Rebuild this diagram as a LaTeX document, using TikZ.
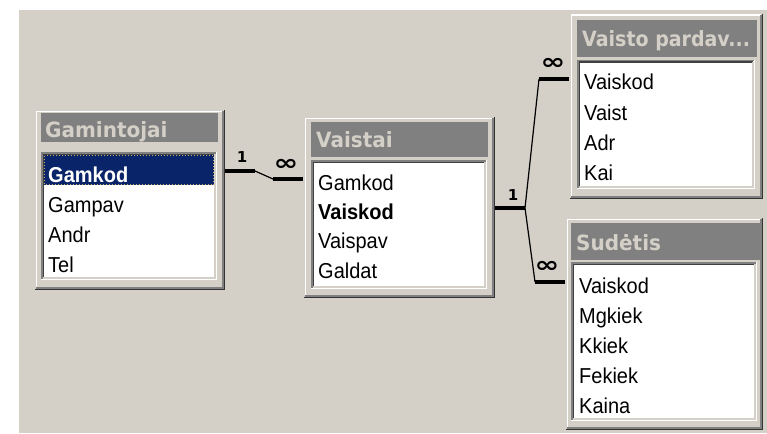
\documentclass[tikz,border=0pt]{standalone}
\usepackage{fontspec}
\setmainfont{Liberation Sans}
\newfontfamily\ttlfont{DejaVu Sans}
\usetikzlibrary{calc}
\definecolor{winbg}{RGB}{212,208,200}
\definecolor{midgray}{RGB}{128,128,128}
\definecolor{darkgray}{RGB}{64,64,64}
\definecolor{selbg}{RGB}{10,36,106}
\definecolor{focusdot}{RGB}{200,176,110}
\tikzset{
  frame/.style={anchor=north west, fill=winbg, inner sep=0pt, outer sep=0pt, draw=none},
  titlebar/.style={anchor=north west, fill=midgray, inner sep=0pt, outer sep=0pt, draw=none},
  listbox/.style={anchor=north west, fill=white, inner sep=0pt, outer sep=0pt, draw=none},
  ttl/.style={anchor=base west, inner sep=0pt, font=\ttlfont\bfseries\fontsize{20}{24}\selectfont, text=winbg, yscale=1.05},
  fld/.style={anchor=base west, inner sep=0pt, font=\fontsize{20}{24}\selectfont, yscale=1.08},
  stub/.style={line width=4.5pt},
  rel/.style={line width=1.2pt},
  card/.style={inner sep=0pt, font=\ttlfont\bfseries\fontsize{15}{17}\selectfont},
  many/.style={inner sep=0pt, font=\ttlfont\bfseries\fontsize{22}{24}\selectfont, xscale=1.35},
}
\newcommand\raisedframe[1]{%
  \draw[line width=1.5pt, white] ([shift={(2.25pt,2.25pt)}]#1.south west) |- ([shift={(-2.25pt,-2.25pt)}]#1.north east);
  \draw[line width=1.5pt, black!80] ([shift={(0.75pt,0.75pt)}]#1.south west) -| ([shift={(-0.75pt,-0.75pt)}]#1.north east);
  \draw[line width=1.5pt, midgray] ([shift={(2.25pt,2.25pt)}]#1.south west) -| ([shift={(-2.25pt,-2.25pt)}]#1.north east);
}
\newcommand\sunkenbox[1]{%
  \draw[line width=1.5pt, midgray] ([shift={(0.75pt,0.75pt)}]#1.south west) |- ([shift={(-0.75pt,-0.75pt)}]#1.north east);
  \draw[line width=1.5pt, darkgray] ([shift={(2.25pt,2.25pt)}]#1.south west) |- ([shift={(-2.25pt,-2.25pt)}]#1.north east);
  \draw[line width=1.5pt, white] ([shift={(0.75pt,0.75pt)}]#1.south west) -| ([shift={(-0.75pt,-0.75pt)}]#1.north east);
  \draw[line width=1.5pt, winbg] ([shift={(2.25pt,2.25pt)}]#1.south west) -| ([shift={(-2.25pt,-2.25pt)}]#1.north east);
}
\begin{document}
\begin{tikzpicture}[x=1pt,y=-1pt]
\useasboundingbox (0,0) rectangle (767,433);
\fill[white] (0,0) rectangle (767,433);
\fill[winbg] (19,10) rectangle (767,433);

% ---------- Gamintojai ----------
\node[frame, minimum width=191pt, minimum height=181pt] (gam) at (34,109) {};
\raisedframe{gam}
\node[titlebar, minimum width=177pt, minimum height=29pt] (gamT) at (41,113) {};
\node[ttl] (gamTt) at (45,137) {Gamintojai};
\node[listbox, minimum width=176pt, minimum height=128pt] (gamL) at (41,152) {};
\sunkenbox{gamL}
\fill[selbg] (44,155) rectangle (214,185);
\draw[focusdot, line width=1pt, dotted] (44.5,155.5) rectangle (213.5,184.5);
\node[fld, text=white, font=\bfseries\fontsize{20}{24}\selectfont] (g1) at (48,182) {Gamkod};
\node[fld] (g2) at (48,212) {Gampav};
\node[fld] (g3) at (48,242) {Andr};
\node[fld] (g4) at (48,272) {Tel};

% ---------- Vaistai ----------
\node[frame, minimum width=192pt, minimum height=182pt] (vai) at (303,116) {};
\raisedframe{vai}
\node[titlebar, minimum width=177pt, minimum height=35pt] (vaiT) at (311,122) {};
\node[ttl] (vaiTt) at (316,147) {Vaistai};
\node[listbox, minimum width=176pt, minimum height=129pt] (vaiL) at (311,160) {};
\sunkenbox{vaiL}
\node[fld] (v1) at (318,190) {Gamkod};
\node[fld, font=\bfseries\fontsize{20}{24}\selectfont] (v2) at (318,219) {Vaiskod};
\node[fld] (v3) at (318,248) {Vaispav};
\node[fld] (v4) at (318,278) {Galdat};

% ---------- Vaisto pardav... ----------
\node[frame, minimum width=194pt, minimum height=186pt] (vp) at (569,13) {};
\raisedframe{vp}
\node[titlebar, minimum width=180pt, minimum height=37pt] (vpT) at (577,20) {};
\node[ttl, xscale=0.95] (vpTt) at (582,47) {Vaisto pardav...};
\node[listbox, minimum width=178pt, minimum height=129pt] (vpL) at (577,60) {};
\sunkenbox{vpL}
\node[fld] (p1) at (584,90) {Vaiskod};
\node[fld] (p2) at (584,120) {Vaist};
\node[fld] (p3) at (584,150) {Adr};
\node[fld] (p4) at (584,180) {Kai};

% ---------- Sudėtis ----------
\node[frame, minimum width=198pt, minimum height=213pt] (sud) at (565,217) {};
\raisedframe{sud}
\node[titlebar, minimum width=189pt, minimum height=37pt] (sudT) at (571,223) {};
\node[ttl] (sudTt) at (576,250) {Sudėtis};
\node[listbox, minimum width=186pt, minimum height=159pt] (sudL) at (571,262) {};
\sunkenbox{sudL}
\node[fld] (s1) at (579,293) {Vaiskod};
\node[fld] (s2) at (579,323) {Mgkiek};
\node[fld] (s3) at (579,353) {Kkiek};
\node[fld] (s4) at (579,383) {Fekiek};
\node[fld] (s5) at (579,413) {Kaina};

% ---------- relationships ----------
\coordinate (g1c) at ($(g1.base)+(0,-11)$);
\coordinate (v1c) at ($(v1.base)+(0,-11)$);
\coordinate (v2c) at ($(v2.base)+(0,-11)$);
\coordinate (p1c) at ($(p1.base)+(0,-11)$);
\coordinate (s1c) at ($(s1.base)+(0,-11)$);

\draw[stub] (gam.east |- g1c) -- ++(30,0) coordinate (r1a);
\draw[stub] (vai.west |- v1c) -- ++(-30,0) coordinate (r1b);
\draw[rel] (r1a) -- (r1b);
\node[card] (r1one) at ($(gam.east |- g1c)+(17,-14)$) {1};
\node[many] (r1inf) at ($(vai.west |- v1c)+(-17,-14)$) {∞};

\draw[stub] (vai.east |- v2c) -- ++(30,0) coordinate (r2a);
\draw[stub] (vp.west |- p1c) -- ++(-30,0) coordinate (r2b);
\draw[rel] (r2a) -- (r2b);
\node[card] (r2one) at ($(vai.east |- v2c)+(18,-13)$) {1};
\node[many] (r2inf) at ($(vp.west |- p1c)+(-16,-15)$) {∞};

\draw[stub] (sud.west |- s1c) -- ++(-30,0) coordinate (r3b);
\draw[rel] (r2a) -- (r3b);
\node[many] (r3inf) at ($(sud.west |- s1c)+(-18,-15)$) {∞};
\end{tikzpicture}
\end{document}
